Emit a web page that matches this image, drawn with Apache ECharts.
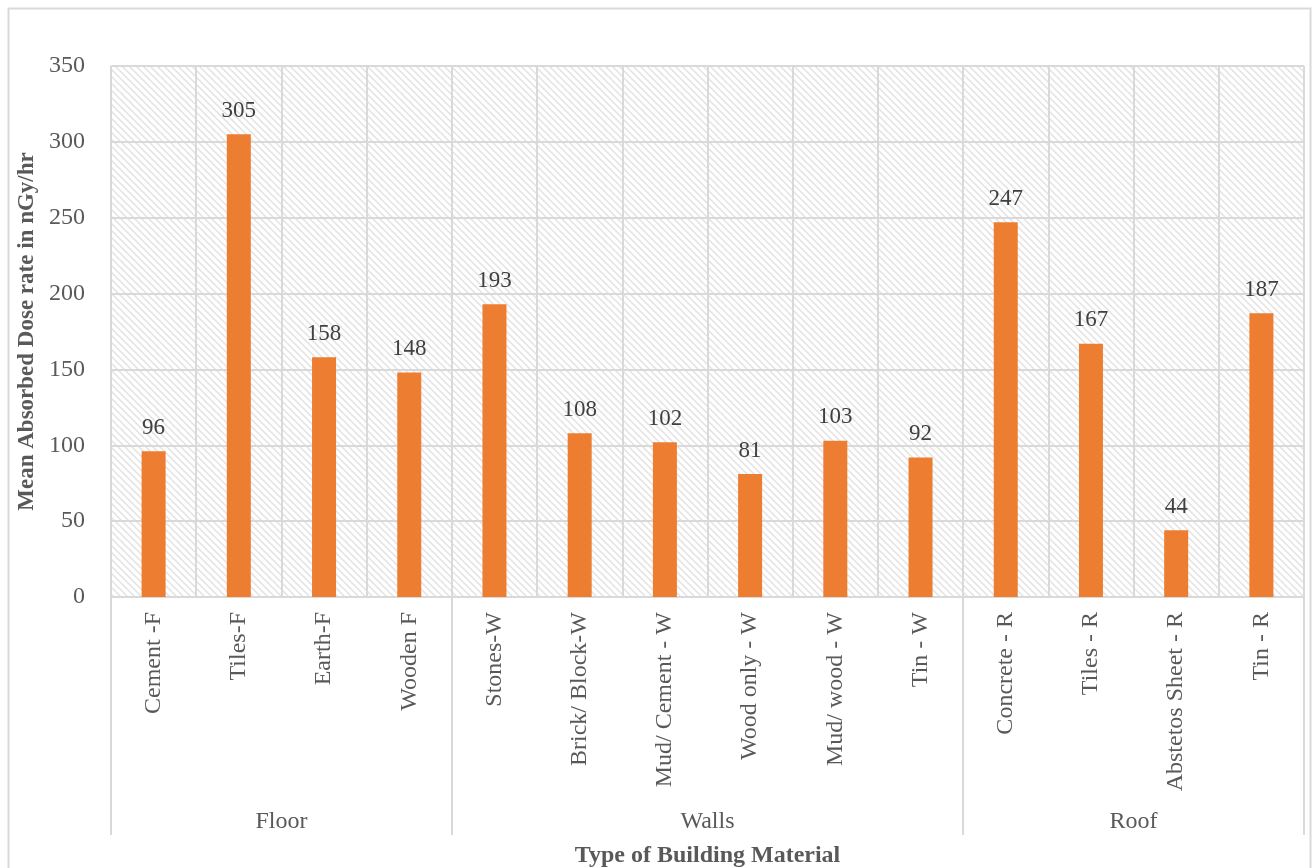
<!DOCTYPE html>
<html>
<head>
<meta charset="utf-8">
<title>Mean Absorbed Dose rate by Building Material</title>
<script src="https://cdn.jsdelivr.net/npm/echarts@6/dist/echarts.min.js"></script>
<style>
  html, body { margin: 0; padding: 0; background: #fff; }
  #chart { width: 1312px; height: 868px; }
</style>
</head>
<body>
<div id="chart"></div>
<script>
// Materials, in plotting order
const categories = [
  'Cement -F', 'Tiles-F', 'Earth-F', 'Wooden F',
  'Stones-W', 'Brick/ Block-W', 'Mud/ Cement - W', 'Wood only - W', 'Mud/ wood - W', 'Tin - W',
  'Concrete - R', 'Tiles - R', 'Abstetos Sheet - R', 'Tin - R'
];
// Mean absorbed dose rate (nGy/hr)
const doseRates = [96, 305, 158, 148, 193, 108, 102, 81, 103, 92, 247, 167, 44, 187];
// Building element groups and how many materials each holds
const groups = ['Floor', 'Walls', 'Roof'];
const groupSizes = [4, 6, 4];
// Value axis ticks
const yTicks = [0, 50, 100, 150, 200, 250, 300, 350];

// Group boundaries and centres along the category axis
const groupEdges = [0];
groupSizes.forEach(n => groupEdges.push(groupEdges[groupEdges.length - 1] + n));
const groupCentres = groups.map((g, i) => (groupEdges[i] + groupEdges[i + 1]) / 2);

// Diagonal hatch used as the plot-area fill
function hatchPattern() {
  const s = 7;
  const c = document.createElement('canvas');
  c.width = s; c.height = s;
  const ctx = c.getContext('2d');
  ctx.fillStyle = '#ffffff';
  ctx.fillRect(0, 0, s, s);
  ctx.strokeStyle = '#e2e2e2';
  ctx.lineWidth = 1.5;
  [-s, 0, s].forEach(k => {
    ctx.beginPath();
    ctx.moveTo(-1, k - 1);
    ctx.lineTo(s + 1, s + k + 1);
    ctx.stroke();
  });
  return { image: c, repeat: 'repeat' };
}

const font = '"Liberation Serif", "Times New Roman", serif';
const gridLine = '#d9d9d9';
const textGrey = '#595959';

const chart = echarts.init(document.getElementById('chart'), null, { renderer: 'canvas' });

chart.setOption({
  animation: false,
  backgroundColor: '#ffffff',
  textStyle: { fontFamily: font },
  graphic: [{
    type: 'rect',
    left: 6, top: 6,
    shape: { width: 1302, height: 880 },
    style: { fill: 'none', stroke: gridLine, lineWidth: 2 },
    silent: true,
    z: -1
  }],
  grid: {
    left: 111, right: 8, top: 66, bottom: 271,
    containLabel: false,
    outerBoundsMode: 'none',
    show: true,
    backgroundColor: hatchPattern(),
    borderWidth: 0
  },
  xAxis: [{
    type: 'category',
    data: categories,
    boundaryGap: true,
    axisLine: { show: true, lineStyle: { color: gridLine, width: 2 } },
    axisTick: { show: false },
    splitLine: { show: true, lineStyle: { color: gridLine, width: 2 } },
    axisLabel: {
      interval: 0,
      rotate: 90,
      margin: 15,
      fontFamily: font,
      fontSize: 24,
      color: textGrey
    }
  }, {
    type: 'value',
    position: 'bottom',
    offset: 0,
    min: groupEdges[0],
    max: groupEdges[groupEdges.length - 1],
    axisLine: { show: false },
    splitLine: { show: false },
    axisTick: {
      show: true,
      customValues: groupEdges,
      length: 238,
      lineStyle: { color: gridLine, width: 2 }
    },
    axisLabel: {
      customValues: groupCentres,
      formatter: v => groups[groupCentres.indexOf(v)] || '',
      margin: 213,
      fontFamily: font,
      fontSize: 24,
      color: textGrey
    },
    name: 'Type of Building Material',
    nameLocation: 'middle',
    nameGap: 247,
    nameTextStyle: {
      fontFamily: font,
      fontSize: 24,
      fontWeight: 'bold',
      color: textGrey
    }
  }],
  yAxis: {
    type: 'value',
    min: yTicks[0],
    max: yTicks[yTicks.length - 1],
    interval: yTicks[1] - yTicks[0],
    axisLine: { show: false },
    axisTick: { show: false },
    splitLine: { show: true, lineStyle: { color: gridLine, width: 2 } },
    axisLabel: {
      margin: 26,
      fontFamily: font,
      fontSize: 24,
      color: textGrey
    },
    name: 'Mean Absorbed Dose rate in nGy/hr',
    nameLocation: 'middle',
    nameGap: 65,
    nameTextStyle: {
      fontFamily: font,
      fontSize: 23,
      fontWeight: 'bold',
      color: textGrey
    }
  },
  series: [{
    type: 'bar',
    xAxisIndex: 0,
    data: doseRates,
    barWidth: 24,
    itemStyle: { color: '#ED7D31' },
    label: {
      show: true,
      position: 'top',
      distance: 12,
      fontFamily: font,
      fontSize: 23,
      color: '#404040'
    }
  }]
});
</script>
</body>
</html>
